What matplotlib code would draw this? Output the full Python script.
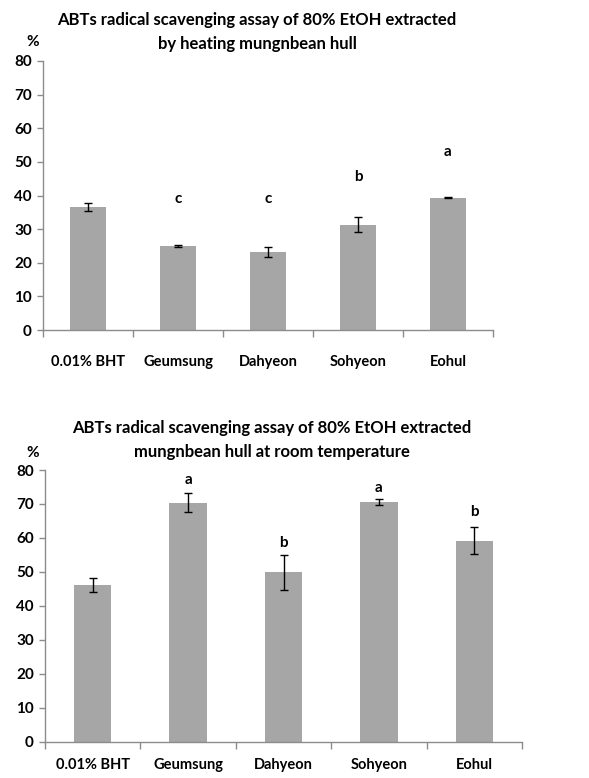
import matplotlib
matplotlib.use("Agg")
import matplotlib.pyplot as plt

plt.rcParams['font.family'] = ['Lato', 'DejaVu Sans']
plt.rcParams['font.weight'] = 'bold'

categories = ["0.01% BHT", "Geumsung", "Dahyeon", "Sohyeon", "Eohul"]

heat_values = [36.5, 25.0, 23.1, 31.3, 39.4]
heat_errors = [1.2, 0.3, 1.5, 2.2, 0.1]
heat_letters = ["", "c", "c", "b", "a"]
heat_letter_y = [0, 39.0, 39.0, 45.4, 52.8]

room_values = [46.1, 70.4, 49.9, 70.7, 59.2]
room_errors = [2.0, 2.9, 5.2, 0.9, 4.0]
room_letters = ["", "a", "b", "a", "b"]
room_letter_y = [0, 77.1, 58.5, 74.6, 67.7]

yticks = [0, 10, 20, 30, 40, 50, 60, 70, 80]

W, H = 589, 778
fig = plt.figure(figsize=(W / 100, H / 100), dpi=100)

BAR = "#a6a6a6"
SPINE = "#8c8c8c"
FS = 10.5


def make(ax_rect, values, errors, letters, letter_y, title_lines, title_x, title_y, pct_y, lab_pad):
    ax = fig.add_axes(ax_rect)
    x = list(range(len(categories)))
    ax.bar(x, values, width=0.39, color=BAR, zorder=2)
    ax.errorbar(x, values, yerr=errors, fmt='none', ecolor='black', elinewidth=1.0,
                capsize=3, capthick=1.0, zorder=3)
    for xi, lt, ly in zip(x, letters, letter_y):
        if lt:
            ax.text(xi, ly, lt, ha='center', va='center', fontsize=FS + 0.5, fontweight='bold')
    ax.set_xlim(-0.5, len(categories) - 0.5)
    ax.set_ylim(0, 80)
    ax.set_yticks(yticks)
    ax.set_yticklabels([str(v) for v in yticks], fontsize=FS + 0.5, fontweight='bold')
    ax.set_xticks(x)
    ax.set_xticklabels(categories, fontsize=FS, fontweight='bold')
    ax.set_xticks([i - 0.5 for i in range(len(categories) + 1)], minor=True)
    ax.tick_params(axis='x', which='major', length=0, pad=lab_pad)
    ax.tick_params(axis='x', which='minor', length=5, color=SPINE, width=1)
    ax.tick_params(axis='y', length=4, color=SPINE, width=1, pad=4)
    for s in ['top', 'right']:
        ax.spines[s].set_visible(False)
    for s in ['left', 'bottom']:
        ax.spines[s].set_color(SPINE)
        ax.spines[s].set_linewidth(1)
    fig.text(title_x / W, 1 - title_y / H, "\n".join(title_lines), ha='center', va='top',
             fontsize=12, fontweight='bold', linespacing=1.6)
    fig.text(33 / W, 1 - pct_y / H, "%", ha='center', va='center', fontsize=FS + 0.5, fontweight='bold')
    return ax


make([43 / W, 1 - 330 / H, (493 - 43) / W, (330 - 61) / H],
     heat_values, heat_errors, heat_letters, heat_letter_y,
     ["ABTs radical scavenging assay of 80% EtOH extracted", "by heating mungnbean hull"],
     257, 12, 42, 18)

make([45 / W, 1 - 741.7 / H, (522 - 45) / W, (741.7 - 470) / H],
     room_values, room_errors, room_letters, room_letter_y,
     ["ABTs radical scavenging assay of 80% EtOH extracted", "mungnbean hull at room temperature"],
     272, 420, 453, 12)

fig.savefig("out.png", dpi=100)
